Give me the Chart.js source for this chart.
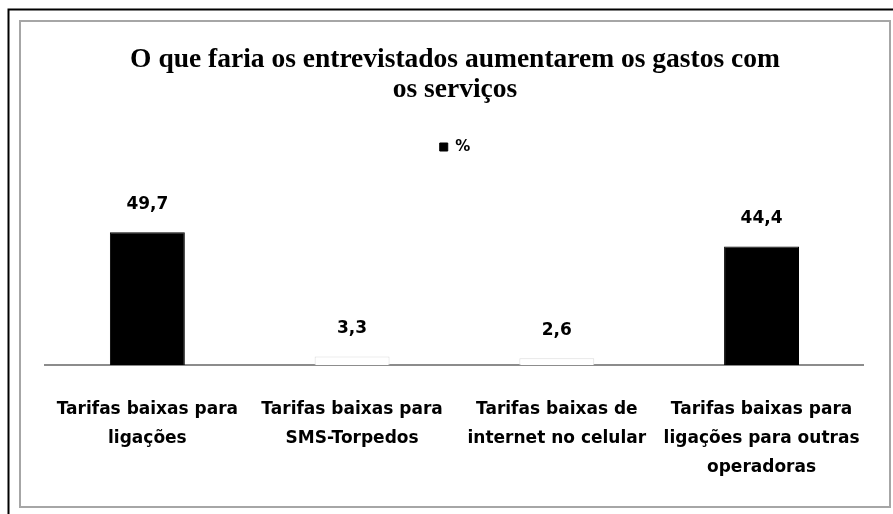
<!DOCTYPE html>
<html>
<head>
<meta charset="utf-8">
<script src="https://cdn.jsdelivr.net/npm/chart.js@4.4.1/dist/chart.umd.min.js"></script>
<style>
  html, body { margin: 0; padding: 0; background: #ffffff; }
  #wrap { width: 893px; height: 514px; position: relative; }
</style>
</head>
<body>
<div id="wrap"><canvas id="c" width="893" height="514"></canvas></div>
<script>
// ---- data ----
const categories = [
  ["Tarifas baixas para", "ligações"],
  ["Tarifas baixas para", "SMS-Torpedos"],
  ["Tarifas baixas de", "internet no celular"],
  ["Tarifas baixas para", "ligações para outras", "operadoras"]
];
const seriesName = "%";
const values = [49.7, 3.3, 2.6, 44.4];
const valueLabels = ["49,7", "3,3", "2,6", "44,4"];
const titleLines = ["O que faria os entrevistados aumentarem os gastos com", "os serviços"];

// ---- styles ----
const barFill = ["#000000", "#ffffff", "#ffffff", "#000000"];
const barEdge = ["#000000", "#dcdcdc", "#dcdcdc", "#000000"];

const framePlugin = {
  id: 'frame',
  beforeDraw(chart) {
    const ctx = chart.ctx;
    ctx.save();
    ctx.fillStyle = '#ffffff';
    ctx.fillRect(0, 0, chart.width, chart.height);
    // outer black lines (left and top)
    ctx.strokeStyle = '#000000';
    ctx.lineWidth = 2;
    ctx.beginPath();
    ctx.moveTo(8.5, chart.height);
    ctx.lineTo(8.5, 9.5);
    ctx.lineTo(chart.width, 9.5);
    ctx.stroke();
    // inner gray frame
    ctx.strokeStyle = '#a6a6a6';
    ctx.lineWidth = 2;
    ctx.strokeRect(20, 21, 870, 486);
    ctx.restore();
  }
};

const valueLabelPlugin = {
  id: 'valueLabels',
  afterDatasetsDraw(chart) {
    const ctx = chart.ctx;
    const meta = chart.getDatasetMeta(0);
    ctx.save();
    ctx.fillStyle = '#000000';
    ctx.font = 'bold 17px "DejaVu Sans"';
    ctx.textAlign = 'center';
    ctx.textBaseline = 'middle';
    meta.data.forEach((bar, i) => {
      ctx.fillText(valueLabels[i], bar.x, bar.y - 28);
    });
    ctx.restore();
  }
};

new Chart(document.getElementById('c'), {
  type: 'bar',
  data: {
    labels: categories,
    datasets: [{
      label: seriesName,
      data: values,
      backgroundColor: (c) => c.type === 'data' ? barFill[c.dataIndex] : '#000000',
      borderColor: (c) => c.type === 'data' ? barEdge[c.dataIndex] : '#000000',
      borderWidth: 1,
      barPercentage: 0.366,
      categoryPercentage: 1.0
    }]
  },
  options: {
    responsive: false,
    animation: false,
    devicePixelRatio: 1,
    layout: { padding: { top: 0, left: 45, right: 28, bottom: 2 } },
    plugins: {
      title: {
        display: true,
        text: titleLines,
        color: '#000000',
        font: { family: '"Liberation Serif", serif', weight: 'bold', size: 27.5, lineHeight: '30px' },
        padding: { top: 45, bottom: 24.5 }
      },
      legend: {
        display: true,
        position: 'top',
        labels: {
          color: '#000000',
          boxWidth: 8,
          boxHeight: 8,
          padding: 10,
          font: { family: '"DejaVu Sans"', weight: 'bold', size: 15 }
        }
      },
      tooltip: { enabled: false }
    },
    scales: {
      x: {
        grid: { display: false, drawTicks: false },
        border: { display: true, color: '#8c8c8c', width: 2 },
        ticks: {
          color: '#000000',
          padding: 30,
          maxRotation: 0,
          autoSkip: false,
          font: { family: '"DejaVu Sans"', weight: 'bold', size: 17, lineHeight: 1.7 }
        }
      },
      y: {
        display: false,
        min: 0,
        max: 75
      }
    }
  },
  plugins: [framePlugin, valueLabelPlugin]
});
</script>
</body>
</html>
